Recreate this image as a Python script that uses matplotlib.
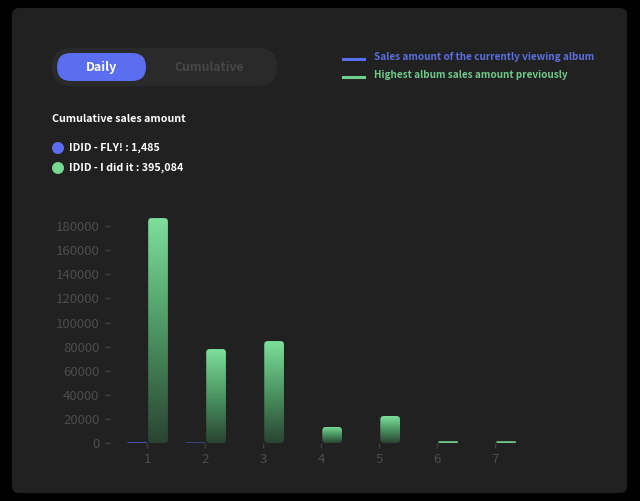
import numpy as np
import matplotlib
matplotlib.use("Agg")
import matplotlib.pyplot as plt
from matplotlib.patches import FancyBboxPatch, Ellipse
from matplotlib.colors import LinearSegmentedColormap

# ---- data ----
days = [1, 2, 3, 4, 5, 6, 7]
current_album = [900, 585, 0, 0, 0, 0, 0]          # IDID - FLY!
previous_best = [186700, 78000, 84600, 13300, 22400, 1500, 1500]  # IDID - I did it
yticks = [0, 20000, 40000, 60000, 80000, 100000, 120000, 140000, 160000, 180000]
toggle_labels = ["Daily", "Cumulative"]
legend_labels = ["Sales amount of the currently viewing album",
                 "Highest album sales amount previously"]
summary_title = "Cumulative sales amount"
summary_lines = ["IDID - FLY! : 1,485", "IDID - I did it : 395,084"]

W, H = 640, 501
BLUE = "#5b6ef0"
GREEN = "#74d992"
FONT = ["Noto Sans CJK KR", "DejaVu Sans"]
plt.rcParams["font.family"] = FONT

fig = plt.figure(figsize=(W / 100, H / 100), dpi=100, facecolor="black")


def fx(px):
    return px / W


def fy(py):
    return 1 - py / H


def fbox(x0, y0, x1, y1, r, color, z=0):
    p = FancyBboxPatch((fx(x0), fy(y1)), fx(x1 - x0), (y1 - y0) / H,
                       boxstyle=f"round,pad=0,rounding_size={r / W}",
                       mutation_aspect=W / H, transform=fig.transFigure,
                       facecolor=color, edgecolor="none", zorder=z)
    fig.patches.append(p)


# panel
fbox(12, 8, 627, 493, 7, "#212121", -3)
# toggle
fbox(52, 48, 277, 86, 19, "#2a2a2a", -2)
fbox(57, 53, 146, 81, 14, BLUE, -1)
fig.text(fx(101.5), fy(67.5), toggle_labels[0], color="white", fontsize=9,
         fontweight="bold", ha="center", va="center")
fig.text(fx(209.5), fy(67.5), toggle_labels[1], color="#474747", fontsize=8.8,
         fontweight="bold", ha="center", va="center")

# legend
for i, (lab, col, tcol) in enumerate(zip(legend_labels, [BLUE, "#6fcf8d"],
                                          ["#5b6ee0", "#6fc98a"])):
    yy = 58.5 + i * 18
    fig.add_artist(plt.Line2D([fx(343), fx(364)], [fy(yy), fy(yy)],
                              color=col, lw=2.2, transform=fig.transFigure))
    fig.text(fx(374), fy(yy - 1.5), lab, color=tcol, fontsize=7.2,
             fontweight="bold", ha="left", va="center")

# summary
fig.text(fx(52), fy(119), summary_title, color="white", fontsize=7.7,
         fontweight="bold", ha="left", va="center")
for i, (lab, col) in enumerate(zip(summary_lines, [BLUE, GREEN])):
    yy = 148 + i * 20
    fig.add_artist(Ellipse((fx(58), fy(yy)), 12 / W, 12 / H,
                           transform=fig.transFigure, facecolor=col,
                           edgecolor="none"))
    fig.text(fx(69), fy(yy), lab, color="white", fontsize=7.7,
             fontweight="bold", ha="left", va="center")

# ---- chart ----
ax_l, ax_r, ax_t, ax_b = 110, 530, 200, 443
ax = fig.add_axes([fx(ax_l), fy(ax_b), fx(ax_r - ax_l), (ax_b - ax_t) / H])
ax.set_zorder(5)
ax.set_facecolor("none")
xlim = (1 - 37 / 58, 7.6)
ax.set_xlim(*xlim)
ax.set_ylim(0, 201700)
for s in ax.spines.values():
    s.set_visible(False)
ax.set_yticks(yticks)
ax.set_yticklabels([str(v) for v in yticks])
ax.set_xticks(days)
ax.tick_params(axis="both", colors="#3f3f3f", labelcolor="#4d4d4d",
               length=3.5, width=1, labelsize=9.5, pad=4)

x = np.array(days, dtype=float)
bw = 0.34
blue_bars = ax.bar(x - 0.17, current_album, width=bw, alpha=0)
green_bars = ax.bar(x + 0.19, previous_best, width=bw, alpha=0)

fig.canvas.draw()
p0 = ax.transData.transform((0, 0))
p1 = ax.transData.transform((1, 1))
x_per_px = 1 / (p1[0] - p0[0])
y_per_px = 1 / (p1[1] - p0[1])
aspect = y_per_px / x_per_px

cmap_g = LinearSegmentedColormap.from_list("g", ["#2a4431", "#4c9562", "#7ddf9b"])
cmap_b = LinearSegmentedColormap.from_list("b", ["#343d7a", "#4a56a8"])


def grad_bar(rect, cmap):
    x0, y0 = rect.get_x(), rect.get_y()
    w, h = rect.get_width(), rect.get_height()
    if h <= 0:
        return
    h_px = h / y_per_px
    w_px = w / x_per_px
    r_px = min(3.5, h_px / 2, w_px / 2)
    r = r_px * x_per_px
    patch = FancyBboxPatch((x0, y0), w, h,
                           boxstyle=f"round,pad=0,rounding_size={r}",
                           mutation_aspect=aspect, facecolor="none",
                           edgecolor="none", transform=ax.transData)
    ax.add_patch(patch)
    grad = np.linspace(0, 1, 256).reshape(-1, 1)
    if h_px < 4:
        grad = np.full((2, 1), 0.85)
    im = ax.imshow(grad, cmap=cmap, vmin=0, vmax=1, origin="lower",
                   extent=(x0, x0 + w, y0, y0 + h), aspect="auto",
                   interpolation="bilinear", zorder=3)
    im.set_clip_path(patch)


for rect in green_bars:
    grad_bar(rect, cmap_g)
for rect in blue_bars:
    grad_bar(rect, cmap_b)

ax.set_xlim(*xlim)
ax.set_ylim(0, 201700)

fig.savefig("out.png", dpi=100, facecolor="black")
